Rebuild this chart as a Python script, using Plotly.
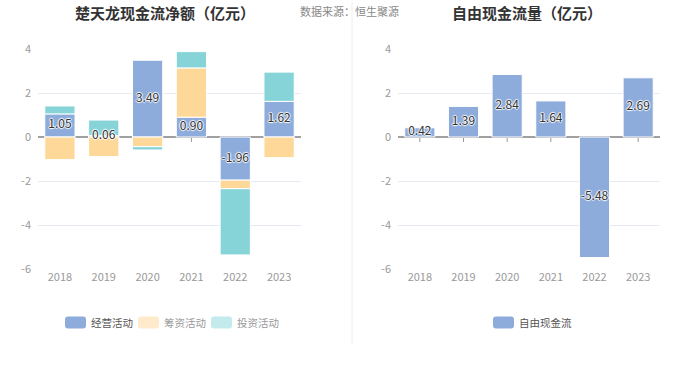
import plotly.graph_objects as go

years = ["2018", "2019", "2020", "2021", "2022", "2023"]
operating = [1.05, 0.06, 3.49, 0.90, -1.96, 1.62]
financing = [-1.03, -0.89, -0.44, 2.24, -0.39, -0.94]
investing = [0.36, 0.71, -0.15, 0.74, -3.01, 1.33]
free_cf = [0.42, 1.39, 2.84, 1.64, -5.48, 2.69]
y_ticks = [-6, -4, -2, 0, 2, 4]

BLUE = "#8dacdb"
ORANGE = "#fed899"
TEAL = "#86d4d7"
FONT = "Noto Sans CJK SC"
W, H = 700.0, 377.0

fig = go.Figure()

label_font = dict(family=FONT, size=12, color="#333333",
                  shadow="1px 0px 1px white, -1px 0px 1px white, 0px 1px 1px white, 0px -1px 1px white")

fig.add_trace(go.Bar(
    x=years, y=operating, name="经营活动", marker=dict(color=BLUE, line=dict(width=1, color="white")),
    xaxis="x", yaxis="y", hoverinfo="x+y"))
fig.add_trace(go.Bar(
    x=years, y=financing, name="筹资活动", marker=dict(color=ORANGE, line=dict(width=1, color="white")),
    xaxis="x", yaxis="y", hoverinfo="x+y"))
fig.add_trace(go.Bar(
    x=years, y=investing, name="投资活动", marker=dict(color=TEAL, line=dict(width=1, color="white")),
    xaxis="x", yaxis="y", hoverinfo="x+y"))
fig.add_trace(go.Scatter(
    x=years, y=[v / 2 for v in operating], mode="text", text=[f"{v:.2f}" for v in operating],
    textfont=label_font, textposition="middle center", cliponaxis=False,
    xaxis="x", yaxis="y", hoverinfo="skip"))

fig.add_trace(go.Bar(
    x=years, y=free_cf, name="自由现金流", marker=dict(color=BLUE, line=dict(width=1, color="white")),
    xaxis="x2", yaxis="y2", hoverinfo="x+y"))
fig.add_trace(go.Scatter(
    x=years, y=[v / 2 for v in free_cf], mode="text", text=[f"{v:.2f}" for v in free_cf],
    textfont=label_font, textposition="middle center", cliponaxis=False,
    xaxis="x2", yaxis="y2", hoverinfo="skip"))

ytop = (H - 49) / H
ybot = (H - 269) / H

axis_common_y = dict(
    range=[-6, 4], tickvals=y_ticks, ticktext=[str(v) for v in y_ticks],
    showgrid=True, gridcolor="#e6eaf2", gridwidth=1,
    zeroline=True, zerolinecolor="#a0a0a0", zerolinewidth=1.5,
    tickfont=dict(family=FONT, size=11, color="#999999"), ticks="", showline=False,
    domain=[ybot, ytop], fixedrange=True, ticklabelstandoff=6, automargin=False)
axis_common_x = dict(
    tickfont=dict(family=FONT, size=11, color="#999999"), showgrid=False, showline=False,
    ticks="", zeroline=False, fixedrange=True, type="category", automargin=False,
    categoryorder="array", categoryarray=years, range=[-0.5, len(years) - 0.5])

shapes = [
    dict(type="line", xref="paper", yref="paper", x0=352 / W, x1=352 / W,
         y0=(H - 345) / H, y1=(H - 2) / H, line=dict(color="#eeeeee", width=1)),
]
for xr, yr in (("x", "y"), ("x2", "y2")):
    for i in range(len(years)):
        shapes.append(dict(type="line", xref=xr, yref=yr, x0=i, x1=i,
                           ysizemode="pixel", yanchor=0, y0=0, y1=-5, layer="between",
                           line=dict(color="#999999", width=1)))


def rounded_rect(x0, y0, w, h, r, color):
    # pixel coords (top-left origin) -> paper path
    def px(x):
        return x / W

    def py(y):
        return (H - y) / H
    x1, y1 = x0 + w, y0 + h
    path = (f"M {px(x0 + r)},{py(y0)} L {px(x1 - r)},{py(y0)} Q {px(x1)},{py(y0)} {px(x1)},{py(y0 + r)} "
            f"L {px(x1)},{py(y1 - r)} Q {px(x1)},{py(y1)} {px(x1 - r)},{py(y1)} "
            f"L {px(x0 + r)},{py(y1)} Q {px(x0)},{py(y1)} {px(x0)},{py(y1 - r)} "
            f"L {px(x0)},{py(y0 + r)} Q {px(x0)},{py(y0)} {px(x0 + r)},{py(y0)} Z")
    return dict(type="path", xref="paper", yref="paper", path=path,
                fillcolor=color, line=dict(width=0))


legend_items = [
    (65, "经营活动", BLUE, "#555555"),
    (138, "筹资活动", "#ffebcc", "#999999"),
    (211, "投资活动", "#c3ebed", "#999999"),
    (493, "自由现金流", BLUE, "#555555"),
]
annotations = [
    dict(text="<b>楚天龙现金流净额（亿元）</b>", x=165 / W, y=(H - 12) / H, xref="paper", yref="paper",
         xanchor="center", yanchor="middle", showarrow=False,
         font=dict(family=FONT, size=15, color="#333333")),
    dict(text="数据来源：恒生聚源", x=298 / W, y=(H - 11) / H, xref="paper", yref="paper",
         xanchor="left", yanchor="middle", showarrow=False,
         font=dict(family=FONT, size=11, color="#888888")),
    dict(text="<b>自由现金流量（亿元）</b>", x=527 / W, y=(H - 12) / H, xref="paper", yref="paper",
         xanchor="center", yanchor="middle", showarrow=False,
         font=dict(family=FONT, size=15, color="#333333")),
]
for x0, name, sw, tc in legend_items:
    shapes.append(rounded_rect(x0, 316.5, 21, 12, 3, sw))
    annotations.append(dict(text=name, x=(x0 + 24) / W, y=(H - 322.5) / H, xref="paper", yref="paper",
                            xanchor="left", yanchor="middle", showarrow=False,
                            font=dict(family=FONT, size=10.5, color=tc)))

fig.update_layout(
    width=700, height=377, paper_bgcolor="white", plot_bgcolor="white",
    margin=dict(l=0, r=0, t=0, b=0, autoexpand=False), barmode="relative", bargap=0.31,
    font=dict(family=FONT), showlegend=False,
    xaxis=dict(domain=[38 / W, 301 / W], anchor="y", **axis_common_x),
    yaxis=dict(anchor="x", **axis_common_y),
    xaxis2=dict(domain=[398 / W, 660 / W], anchor="y2", **axis_common_x),
    yaxis2=dict(anchor="x2", **axis_common_y),
    annotations=annotations,
    shapes=shapes,
)

fig.write_html("out.html", post_script="document.body.style.margin='0';",
               config={"displayModeBar": False})
